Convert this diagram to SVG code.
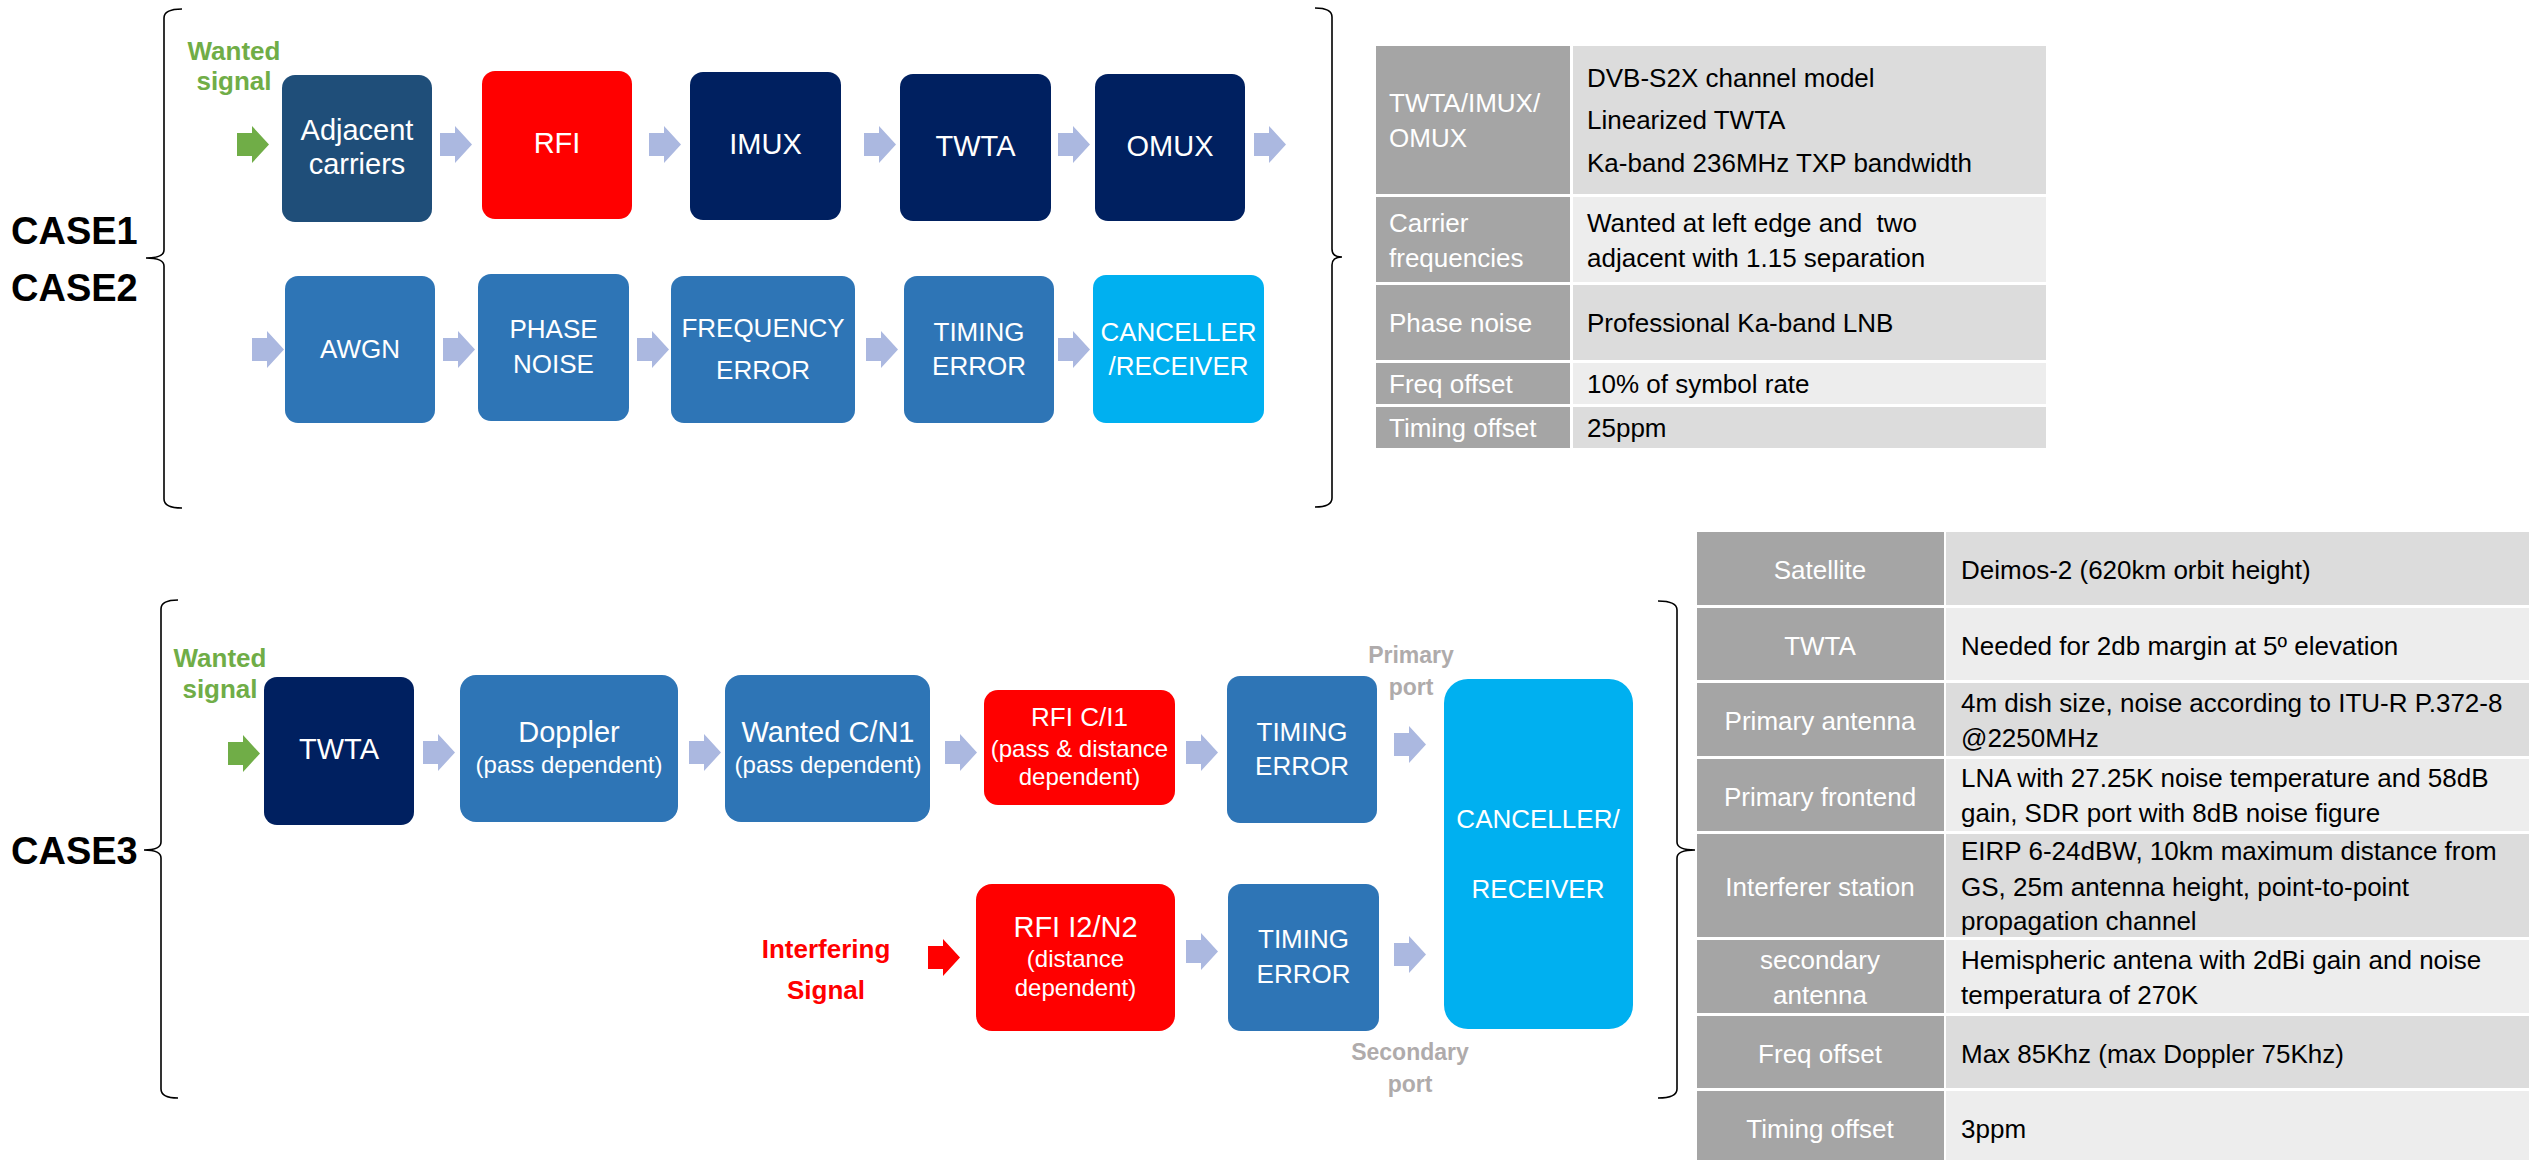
<svg xmlns="http://www.w3.org/2000/svg" xmlns:xlink="http://www.w3.org/1999/xlink" width="2529" height="1160" viewBox="0 0 2529 1160">
<style>
text{font-family:"Liberation Sans",Arial,sans-serif}
.bt{fill:#fff;text-anchor:middle}
.t28{font-size:29px}
.t26{font-size:26px}
.t24{font-size:24px}
.case{font-size:38px;font-weight:bold;fill:#000}
.green{fill:#70AD47;font-size:26px;font-weight:bold;text-anchor:middle}
.red{fill:#FF0000;font-size:26px;font-weight:bold;text-anchor:middle}
.port{fill:#AFABAB;font-size:23px;font-weight:bold;text-anchor:middle}
.brace{fill:none;stroke:#000;stroke-width:1.6}
.navy{fill:#002060}
.steel{fill:#1F4E79}
.blue{fill:#2E75B6}
.rfi{fill:#FF0000}
.cyan{fill:#00B0F0}
.arr{fill:#ABB8E0}
.garr{fill:#70AD47}
.rarr{fill:#FF0000}
.hd{fill:#A5A5A5}
.c1{fill:#DCDCDC}
.c2{fill:#EDEDED}
.tw{fill:#fff;font-size:26px}
.twc{fill:#fff;font-size:26px;text-anchor:middle}
.tb{fill:#000;font-size:26px}
</style>
<defs>
<path id="arrow" d="M0,7 H15 V0 L32,18.5 L15,37 V30 H0 Z"/>
</defs>
<rect width="2529" height="1160" fill="#fff"/>

<!-- Case labels and braces -->
<g id="case-labels">
<text class="case" x="11" y="244">CASE1</text>
<text class="case" x="11" y="301">CASE2</text>
<text class="case" x="11" y="864">CASE3</text>
</g>
<g id="braces">
<path class="brace" d="M182,9 Q164,9 164,18 V250 Q164,258 146,258 Q164,258 164,266 V499 Q164,508 182,508"/>
<path class="brace" d="M1315,8 Q1332,8 1332,17 V249 Q1332,257 1342,257 Q1332,257 1332,265 V498 Q1332,507 1315,507"/>
<path class="brace" d="M178,600 Q161,600 161,609 V842 Q161,850 144,850 Q161,850 161,858 V1089 Q161,1098 178,1098"/>
<path class="brace" d="M1658,601 Q1677,601 1677,610 V842 Q1677,850 1695,850 Q1677,850 1677,858 V1089 Q1677,1098 1658,1098"/>
</g>

<!-- Signal labels -->
<g id="labels">
<text class="green" x="234" y="60">Wanted</text>
<text class="green" x="234" y="90">signal</text>
<text class="green" x="220" y="667">Wanted</text>
<text class="green" x="220" y="698">signal</text>
<text class="red" x="826" y="958">Interfering</text>
<text class="red" x="826" y="999">Signal</text>
<text class="port" x="1411" y="663">Primary</text>
<text class="port" x="1411" y="695">port</text>
<text class="port" x="1410" y="1060">Secondary</text>
<text class="port" x="1410" y="1092">port</text>
</g>

<!-- Connectors (block arrows) -->
<g id="connectors">
<use href="#arrow" class="garr" x="237" y="126"/>
<use href="#arrow" class="arr" x="440" y="126"/>
<use href="#arrow" class="arr" x="649" y="126"/>
<use href="#arrow" class="arr" x="864" y="126"/>
<use href="#arrow" class="arr" x="1058" y="126"/>
<use href="#arrow" class="arr" x="1254" y="126"/>
<use href="#arrow" class="arr" x="252" y="331"/>
<use href="#arrow" class="arr" x="443" y="331"/>
<use href="#arrow" class="arr" x="637" y="331"/>
<use href="#arrow" class="arr" x="866" y="331"/>
<use href="#arrow" class="arr" x="1058" y="331"/>
<use href="#arrow" class="garr" x="228" y="735"/>
<use href="#arrow" class="arr" x="423" y="734"/>
<use href="#arrow" class="arr" x="689" y="734"/>
<use href="#arrow" class="arr" x="945" y="734"/>
<use href="#arrow" class="arr" x="1186" y="734"/>
<use href="#arrow" class="arr" x="1394" y="726"/>
<use href="#arrow" class="rarr" x="928" y="939"/>
<use href="#arrow" class="arr" x="1186" y="933"/>
<use href="#arrow" class="arr" x="1394" y="936"/>
</g>

<!-- CASE1/2 row 1 -->
<g id="adjacent"><rect class="steel" x="282" y="75" width="150" height="147" rx="13"/>
<text class="bt t28" x="357" y="140">Adjacent</text><text class="bt t28" x="357" y="174">carriers</text></g>
<g id="rfi1"><rect class="rfi" x="482" y="71" width="150" height="148" rx="13"/>
<text class="bt t28" x="557" y="153">RFI</text></g>
<g id="imux"><rect class="navy" x="690" y="72" width="151" height="148" rx="13"/>
<text class="bt t28" x="765.5" y="154">IMUX</text></g>
<g id="twta1"><rect class="navy" x="900" y="74" width="151" height="147" rx="13"/>
<text class="bt t28" x="975.5" y="156">TWTA</text></g>
<g id="omux"><rect class="navy" x="1095" y="74" width="150" height="147" rx="13"/>
<text class="bt t28" x="1170" y="156">OMUX</text></g>

<!-- CASE1/2 row 2 -->
<g id="awgn"><rect class="blue" x="285" y="276" width="150" height="147" rx="13"/>
<text class="bt t26" x="360" y="358">AWGN</text></g>
<g id="phase-noise"><rect class="blue" x="478" y="274" width="151" height="147" rx="13"/>
<text class="bt t26" x="553.5" y="338">PHASE</text><text class="bt t26" x="553.5" y="373">NOISE</text></g>
<g id="freq-error"><rect class="blue" x="671" y="276" width="184" height="147" rx="13"/>
<text class="bt t26" x="763" y="337">FREQUENCY</text><text class="bt t26" x="763" y="379">ERROR</text></g>
<g id="timing-error1"><rect class="blue" x="904" y="276" width="150" height="147" rx="13"/>
<text class="bt t26" x="979" y="341">TIMING</text><text class="bt t26" x="979" y="375">ERROR</text></g>
<g id="canceller1"><rect class="cyan" x="1093" y="275" width="171" height="148" rx="13"/>
<text class="bt t26" x="1178.5" y="341">CANCELLER</text><text class="bt t26" x="1178.5" y="375">/RECEIVER</text></g>

<!-- CASE3 -->
<g id="twta3"><rect class="navy" x="264" y="677" width="150" height="148" rx="13"/>
<text class="bt t28" x="339" y="759">TWTA</text></g>
<g id="doppler"><rect class="blue" x="460" y="675" width="218" height="147" rx="16"/>
<text class="bt t28" x="569" y="742">Doppler</text><text class="bt t24" x="569" y="773">(pass dependent)</text></g>
<g id="wanted-cn1"><rect class="blue" x="725" y="675" width="205" height="147" rx="16"/>
<text class="bt t28" x="828" y="742">Wanted C/N1</text><text class="bt t24" x="828" y="773">(pass dependent)</text></g>
<g id="rfi-ci1"><rect class="rfi" x="984" y="690" width="191" height="115" rx="14"/>
<text class="bt t26" x="1079.5" y="726">RFI C/I1</text><text class="bt t24" x="1079.5" y="757">(pass &amp; distance</text><text class="bt t24" x="1079.5" y="785">dependent)</text></g>
<g id="timing-error3a"><rect class="blue" x="1227" y="676" width="150" height="147" rx="13"/>
<text class="bt t26" x="1302" y="741">TIMING</text><text class="bt t26" x="1302" y="775">ERROR</text></g>
<g id="canceller3"><rect class="cyan" x="1444" y="679" width="189" height="350" rx="24"/>
<text class="bt t26" x="1538" y="828">CANCELLER/</text><text class="bt t26" x="1538" y="898">RECEIVER</text></g>
<g id="rfi-i2n2"><rect class="rfi" x="976" y="884" width="199" height="147" rx="16"/>
<text class="bt t28" x="1075.5" y="937">RFI I2/N2</text><text class="bt t24" x="1075.5" y="967">(distance</text><text class="bt t24" x="1075.5" y="996">dependent)</text></g>
<g id="timing-error3b"><rect class="blue" x="1228" y="884" width="151" height="147" rx="13"/>
<text class="bt t26" x="1303.5" y="948">TIMING</text><text class="bt t26" x="1303.5" y="983">ERROR</text></g>

<!-- Table 1 -->
<g id="table1">
<rect class="hd" x="1376" y="46" width="194" height="148"/><rect class="c1" x="1573" y="46" width="473" height="148"/>
<rect class="hd" x="1376" y="197" width="194" height="85"/><rect class="c2" x="1573" y="197" width="473" height="85"/>
<rect class="hd" x="1376" y="285" width="194" height="75"/><rect class="c1" x="1573" y="285" width="473" height="75"/>
<rect class="hd" x="1376" y="363" width="194" height="41"/><rect class="c2" x="1573" y="363" width="473" height="41"/>
<rect class="hd" x="1376" y="407" width="194" height="41"/><rect class="c1" x="1573" y="407" width="473" height="41"/>
<text class="tw" x="1389" y="112">TWTA/IMUX/</text>
<text class="tw" x="1389" y="147">OMUX</text>
<text class="tb" x="1587" y="87">DVB-S2X channel model</text>
<text class="tb" x="1587" y="129">Linearized TWTA</text>
<text class="tb" x="1587" y="172">Ka-band 236MHz TXP bandwidth</text>
<text class="tw" x="1389" y="232">Carrier</text>
<text class="tw" x="1389" y="267">frequencies</text>
<text class="tb" x="1587" y="232" xml:space="preserve">Wanted at left edge and  two</text>
<text class="tb" x="1587" y="267">adjacent with 1.15 separation</text>
<text class="tw" x="1389" y="332">Phase noise</text>
<text class="tb" x="1587" y="332">Professional Ka-band LNB</text>
<text class="tw" x="1389" y="393">Freq offset</text>
<text class="tb" x="1587" y="393">10% of symbol rate</text>
<text class="tw" x="1389" y="437">Timing offset</text>
<text class="tb" x="1587" y="437">25ppm</text>
</g>

<!-- Table 2 -->
<g id="table2">
<rect class="hd" x="1697" y="532" width="247" height="73"/><rect class="c1" x="1946" y="532" width="583" height="73"/>
<rect class="hd" x="1697" y="608" width="247" height="72"/><rect class="c2" x="1946" y="608" width="583" height="72"/>
<rect class="hd" x="1697" y="683" width="247" height="73"/><rect class="c1" x="1946" y="683" width="583" height="73"/>
<rect class="hd" x="1697" y="759" width="247" height="72"/><rect class="c2" x="1946" y="759" width="583" height="72"/>
<rect class="hd" x="1697" y="834" width="247" height="103"/><rect class="c1" x="1946" y="834" width="583" height="103"/>
<rect class="hd" x="1697" y="940" width="247" height="73"/><rect class="c2" x="1946" y="940" width="583" height="73"/>
<rect class="hd" x="1697" y="1016" width="247" height="72"/><rect class="c1" x="1946" y="1016" width="583" height="72"/>
<rect class="hd" x="1697" y="1091" width="247" height="69"/><rect class="c2" x="1946" y="1091" width="583" height="69"/>
<text class="twc" x="1820" y="579">Satellite</text>
<text class="tb" x="1961" y="579">Deimos-2 (620km orbit height)</text>
<text class="twc" x="1820" y="655">TWTA</text>
<text class="tb" x="1961" y="655">Needed for 2db margin at 5º elevation</text>
<text class="twc" x="1820" y="730">Primary antenna</text>
<text class="tb" x="1961" y="712">4m dish size, noise according to ITU-R P.372-8</text>
<text class="tb" x="1961" y="747">@2250MHz</text>
<text class="twc" x="1820" y="806">Primary frontend</text>
<text class="tb" x="1961" y="787">LNA with 27.25K noise temperature and 58dB</text>
<text class="tb" x="1961" y="822">gain, SDR port with 8dB noise figure</text>
<text class="twc" x="1820" y="896">Interferer station</text>
<text class="tb" x="1961" y="860">EIRP 6-24dBW, 10km maximum distance from</text>
<text class="tb" x="1961" y="896">GS, 25m antenna height, point-to-point</text>
<text class="tb" x="1961" y="930">propagation channel</text>
<text class="twc" x="1820" y="969">secondary</text>
<text class="twc" x="1820" y="1004">antenna</text>
<text class="tb" x="1961" y="969">Hemispheric antena with 2dBi gain and noise</text>
<text class="tb" x="1961" y="1004">temperatura of 270K</text>
<text class="twc" x="1820" y="1063">Freq offset</text>
<text class="tb" x="1961" y="1063">Max 85Khz (max Doppler 75Khz)</text>
<text class="twc" x="1820" y="1138">Timing offset</text>
<text class="tb" x="1961" y="1138">3ppm</text>
</g>
</svg>
